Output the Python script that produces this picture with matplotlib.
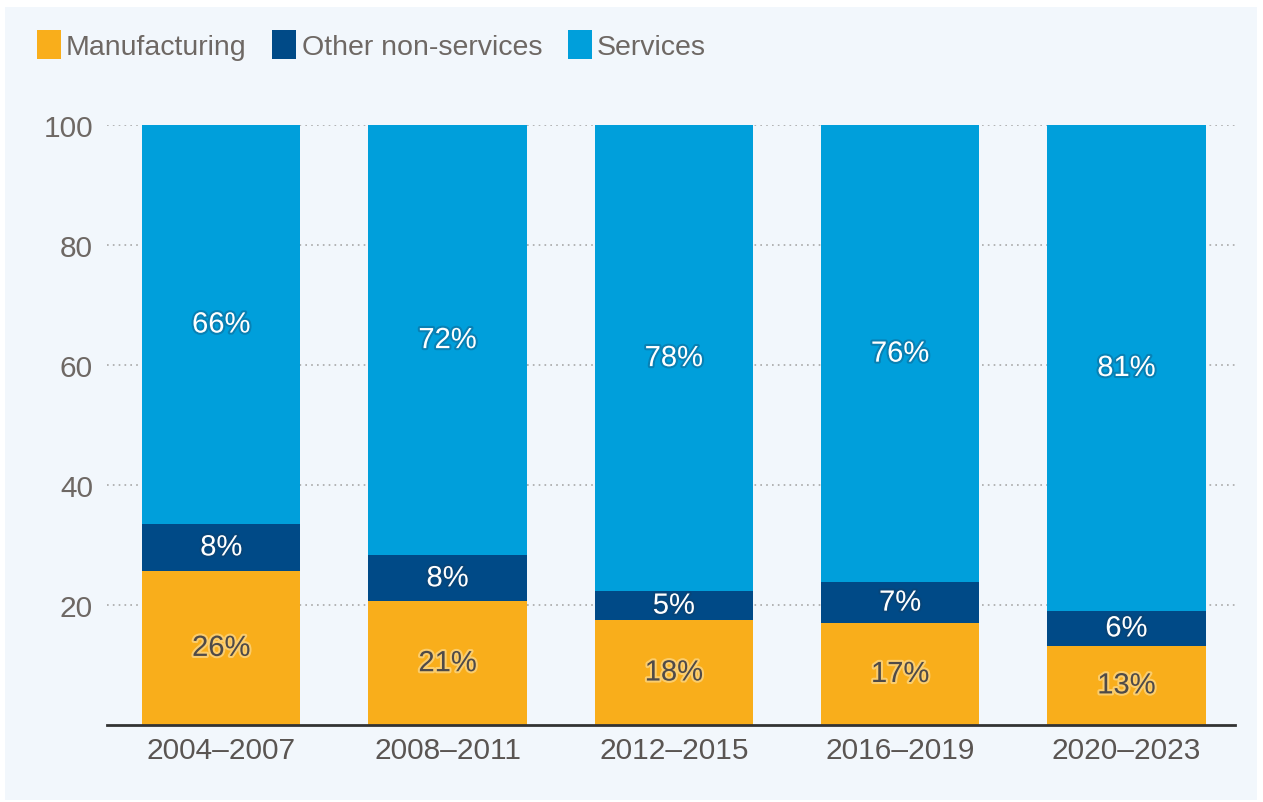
import matplotlib
matplotlib.use("Agg")
import matplotlib.pyplot as plt
import matplotlib.patheffects as pe
from matplotlib.patches import Rectangle, Patch
import numpy as np

# data (shares of total, percent)
periods = ["2004\u20132007", "2008\u20132011", "2012\u20132015", "2016\u20132019", "2020\u20132023"]
manufacturing = [25.7, 20.6, 17.5, 17.0, 13.2]
other_non_services = [7.8, 7.7, 4.8, 6.8, 5.8]
services = [100 - m - o for m, o in zip(manufacturing, other_non_services)]
manufacturing_labels = ["26%", "21%", "18%", "17%", "13%"]
other_labels = ["8%", "8%", "5%", "7%", "6%"]
services_labels = ["66%", "72%", "78%", "76%", "81%"]
yticks = [20, 40, 60, 80, 100]

ORANGE = "#f9ae1b"
NAVY = "#004a87"
BLUE = "#009fdb"
PANEL = "#f2f7fc"
GREY_TEXT = "#6e6864"

plt.rcParams['font.family'] = ['Liberation Sans', 'DejaVu Sans']

fig = plt.figure(figsize=(12.63, 8.03), dpi=100)
fig.patch.set_facecolor("white")
fig.patches.append(Rectangle((5 / 1263, 2 / 803), 1252 / 1263, 793 / 803,
                             transform=fig.transFigure, facecolor=PANEL,
                             edgecolor="none", zorder=-10))

ax = fig.add_axes([107 / 1263, 77 / 803, 1128 / 1263, 600 / 803])
ax.set_facecolor("none")

x = np.arange(len(periods))
width = 0.70
ax.bar(x, manufacturing, width, color=ORANGE, zorder=3)
ax.bar(x, other_non_services, width, bottom=manufacturing, color=NAVY, zorder=3)
bottom2 = [m + o for m, o in zip(manufacturing, other_non_services)]
ax.bar(x, services, width, bottom=bottom2, color=BLUE, zorder=3)

lbl_font = dict(fontsize=21)
dark_glow = [pe.withStroke(linewidth=3, foreground="#1a3a5a", alpha=0.3)]
light_glow = [pe.withStroke(linewidth=3, foreground="#fff3d0", alpha=0.45)]
for i in range(len(periods)):
    ax.text(x[i], manufacturing[i] / 2, manufacturing_labels[i], ha="center", va="center",
            color="#4f4a47", path_effects=light_glow, zorder=5, **lbl_font)
    ax.text(x[i], manufacturing[i] + other_non_services[i] / 2, other_labels[i],
            ha="center", va="center", color="white", path_effects=dark_glow, zorder=5, **lbl_font)
    ax.text(x[i], bottom2[i] + services[i] / 2, services_labels[i], ha="center", va="center",
            color="white", path_effects=dark_glow, zorder=5, **lbl_font)

ax.set_xlim(-0.505, 4.48)
ax.set_ylim(0, 100)
ax.set_yticks(yticks)
ax.set_xticks(x)
ax.set_xticklabels(periods)
ax.tick_params(axis="y", length=0, pad=10, labelsize=21.5, labelcolor=GREY_TEXT)
ax.tick_params(axis="x", length=0, pad=8, labelsize=21.5, labelcolor="#5a5552")

ax.yaxis.grid(True, color="#a8a8a8", linestyle=(0, (1, 2.5)), linewidth=1.2, zorder=0)
ax.set_axisbelow(True)
for s in ["top", "right", "left"]:
    ax.spines[s].set_visible(False)
ax.spines["bottom"].set_color("#333333")
ax.spines["bottom"].set_linewidth(2)
ax.spines["bottom"].set_zorder(4)

handles = [Patch(facecolor=ORANGE), Patch(facecolor=NAVY), Patch(facecolor=BLUE)]
fig.legend(handles, ["Manufacturing", "Other non-services", "Services"],
           loc="upper left", bbox_to_anchor=(11 / 1263, 1 - 5 / 803), ncol=3,
           frameon=False, fontsize=20.5, handlelength=0.85, handleheight=1.2,
           handletextpad=0.18, columnspacing=0.9, labelcolor=GREY_TEXT)

fig.savefig("out.png", dpi=100, facecolor=fig.get_facecolor())
